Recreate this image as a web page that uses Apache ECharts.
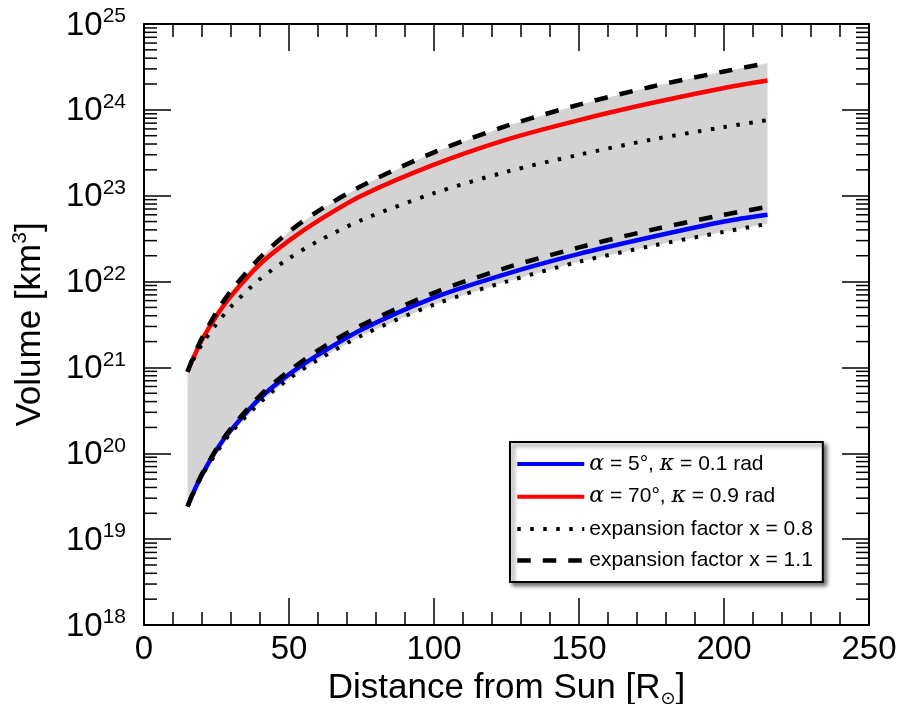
<!DOCTYPE html>
<html><head><meta charset="utf-8">
<script src="https://cdn.jsdelivr.net/npm/echarts@6/dist/echarts.min.js"></script>
<style>html,body{margin:0;padding:0;background:#fff}#c{width:900px;height:704px}</style>
</head><body><div id="c"></div>
<script>
// Distance from Sun [R_sun]
const distances = [15, 17, 20, 25, 30, 40, 50, 60, 75, 100, 125, 150, 175, 200, 215];
// Volume [km^3]
const volAlpha5 = [2.4e19, 3.47e19, 5.6e19, 1.1e20, 1.86e20, 4.4e20, 8.3e20, 1.4e21, 2.75e21, 6.5e21, 1.23e22, 2.1e22, 3.3e22, 5.0e22, 6.0e22];
const volAlpha70 = [8.9e20, 1.29e21, 2.1e21, 4.0e21, 6.8e21, 1.6e22, 3.0e22, 5.1e22, 1.0e23, 2.3e23, 4.5e23, 7.6e23, 1.2e24, 1.8e24, 2.2e24];
const volX08Upper = [8.9e20, 1.23e21, 1.86e21, 3.2e21, 5.1e21, 1.07e22, 1.86e22, 2.95e22, 5.2e22, 1.07e23, 1.9e23, 3.0e23, 4.5e23, 6.3e23, 7.6e23];
const volX08Lower = [2.4e19, 3.4e19, 5.5e19, 1.02e20, 1.74e20, 3.9e20, 7.4e20, 1.23e21, 2.35e21, 5.4e21, 1.0e22, 1.7e22, 2.6e22, 3.8e22, 4.7e22];
const volX11Upper = [8.9e20, 1.32e21, 2.2e21, 4.4e21, 7.8e21, 1.9e22, 3.8e22, 6.6e22, 1.3e23, 3.2e23, 6.5e23, 1.15e24, 1.86e24, 2.8e24, 3.5e24];
const volX11Lower = [2.4e19, 3.5e19, 5.75e19, 1.12e20, 1.95e20, 4.7e20, 9.1e20, 1.58e21, 3.1e21, 7.4e21, 1.45e22, 2.5e22, 4.0e22, 6.0e22, 7.4e22];
const legendNames = ['a5', 'a70', 'x08', 'x11'];
const legendLabels = {
  a5: '{i|α} = 5°, {i|κ} = 0.1 rad',
  a70: '{i|α} = 70°, {i|κ} = 0.9 rad',
  x08: 'expansion factor x = 0.8',
  x11: 'expansion factor x = 1.1'
};
const xMin = 0, xMax = 250, xStep = 50;
const yMin = 1e18, yMax = 1e25;

const FONT = '"Liberation Sans", Arial, Helvetica, sans-serif';
const minorY = [];
for (let n = 18; n < 25; n++) for (let k = 2; k <= 9; k++) minorY.push(k * Math.pow(10, n));
function pairs(ys) { return distances.map((x, i) => [x, ys[i]]); }

const DOT = { color: '#000', width: 4, type: [3.5, 9.5], cap: 'butt' };
const DASH = { color: '#000', width: 4.5, type: [13.5, 12], cap: 'butt' };

const chart = echarts.init(document.getElementById('c'));
const tickLine = { color: '#000', width: 1.5 };
function xAxisCfg(pos, withLabels) {
  return {
    type: 'value', min: xMin, max: xMax, interval: xStep, position: pos,
    axisLine: { show: true, onZero: false, lineStyle: { color: '#000', width: 2 } },
    axisTick: { show: true, inside: true, length: 27, lineStyle: tickLine },
    minorTick: { show: true, splitNumber: 5, length: 13, lineStyle: tickLine },
    splitLine: { show: false }, minorSplitLine: { show: false },
    axisLabel: { show: withLabels, fontSize: 33, color: '#000', fontFamily: FONT, margin: 8 },
    name: withLabels ? 'Distance from Sun [R{sub|⊙}]' : '',
    nameLocation: 'middle', nameGap: 43, nameMoveOverlap: false,
    nameTextStyle: { fontSize: 35, color: '#000', fontFamily: FONT, lineHeight: 40,
      rich: { sub: { fontSize: 18, fontFamily: '"DejaVu Sans", sans-serif', color: '#000', verticalAlign: 'bottom', lineHeight: 18 } } }
  };
}
function yAxisCfg(pos, withLabels) {
  return {
    type: 'log', min: yMin, max: yMax, splitNumber: 7, position: pos,
    axisLine: { show: true, onZero: false, lineStyle: { color: '#000', width: 2 } },
    axisTick: { show: true, inside: true, length: 27, lineStyle: tickLine },
    splitLine: { show: false },
    axisLabel: { show: withLabels, margin: 18, color: '#000',
      formatter: v => '{h|\u200b}{b|10}{s|' + Math.round(Math.log10(v)) + '}',
      rich: {
        h: { fontSize: 33, fontFamily: FONT, lineHeight: 36, verticalAlign: 'middle' },
        b: { fontSize: 33, fontFamily: FONT, color: '#000', lineHeight: 24, verticalAlign: 'bottom' },
        s: { fontSize: 21, fontFamily: FONT, color: '#000', lineHeight: 24, verticalAlign: 'top' }
      } },
    name: withLabels ? 'Volume [km{sup|3}]' : '',
    nameLocation: 'middle', nameGap: 94, nameRotate: 90, nameMoveOverlap: false,
    nameTextStyle: { fontSize: 35, color: '#000', fontFamily: FONT, lineHeight: 40,
      rich: { sup: { fontSize: 21, fontFamily: FONT, color: '#000', verticalAlign: 'top', lineHeight: 22 } } }
  };
}
const noSymbol = { color: 'rgba(0,0,0,0)', borderWidth: 0, opacity: 0 };

const option = {
  animation: false,
  backgroundColor: '#fff',
  grid: { left: 144, right: 31, top: 24, bottom: 79, containLabel: false, outerBoundsMode: 'none' },
  xAxis: [xAxisCfg('bottom', true), xAxisCfg('top', false)],
  yAxis: [yAxisCfg('left', true), yAxisCfg('right', false)],
  legend: {
    orient: 'vertical', left: 510, top: 442, selectedMode: false,
    data: [
      { name: 'a5', itemStyle: noSymbol, lineStyle: { color: '#0000ff', width: 4 } },
      { name: 'a70', itemStyle: noSymbol, lineStyle: { color: '#ff0000', width: 4 } },
      { name: 'x08', itemStyle: noSymbol, lineStyle: DOT },
      { name: 'x11', itemStyle: noSymbol, lineStyle: DASH }
    ],
    itemWidth: 67, itemHeight: 20, itemGap: 10.7,
    padding: [11, 10, 11, 5],
    backgroundColor: '#fff', borderColor: '#000', borderWidth: 2, borderRadius: 0,
    shadowColor: 'rgba(0,0,0,0.55)', shadowBlur: 4, shadowOffsetX: 3, shadowOffsetY: 3,
    formatter: n => legendLabels[n],
    textStyle: { fontSize: 21, color: '#000', fontFamily: FONT,
      rich: { i: { fontSize: 22, fontStyle: 'italic', fontFamily: '"DejaVu Serif", serif', color: '#000' } } }
  },
  series: [
    { type: 'custom', name: 'band', silent: true, z: 1,
      data: [[distances[0], volX11Upper[0]]],
      renderItem: (params, api) => {
        const pts = [];
        for (let i = 0; i < distances.length; i++) pts.push(api.coord([distances[i], volX11Upper[i]]));
        for (let i = distances.length - 1; i >= 0; i--) pts.push(api.coord([distances[i], volX08Lower[i]]));
        return { type: 'polygon', shape: { points: pts }, style: { fill: '#d3d3d3' } };
      } },
    { type: 'line', name: 'a5', data: pairs(volAlpha5), symbol: 'none', smooth: 0.3, z: 2,
      lineStyle: { color: '#0000ff', width: 4.5 }, itemStyle: { color: '#0000ff' } },
    { type: 'line', name: 'a70', data: pairs(volAlpha70), symbol: 'none', smooth: 0.3, z: 2,
      lineStyle: { color: '#ff0000', width: 4.5 }, itemStyle: { color: '#ff0000' } },
    { type: 'line', name: 'x08', data: pairs(volX08Upper), symbol: 'none', smooth: 0.3, z: 3,
      lineStyle: DOT, itemStyle: { color: '#000' } },
    { type: 'line', name: 'x08', data: pairs(volX08Lower), symbol: 'none', smooth: 0.3, z: 3,
      lineStyle: DOT, itemStyle: { color: '#000' } },
    { type: 'line', name: 'x11', data: pairs(volX11Upper), symbol: 'none', smooth: 0.3, z: 4,
      lineStyle: DASH, itemStyle: { color: '#000' } },
    { type: 'line', name: 'x11', data: pairs(volX11Lower), symbol: 'none', smooth: 0.3, z: 4,
      lineStyle: DASH, itemStyle: { color: '#000' } },
    { type: 'custom', name: 'minorTicks', silent: true, z: 5,
      data: minorY.map(v => [xMin, v]),
      renderItem: (params, api) => {
        const v = api.value(1);
        const p0 = api.coord([xMin, v]);
        const p1 = api.coord([xMax, v]);
        return { type: 'group', children: [
          { type: 'line', shape: { x1: p0[0], y1: p0[1], x2: p0[0] + 13, y2: p0[1] }, style: { stroke: '#000', lineWidth: 1.5 } },
          { type: 'line', shape: { x1: p1[0] - 13, y1: p1[1], x2: p1[0], y2: p1[1] }, style: { stroke: '#000', lineWidth: 1.5 } }
        ] };
      } }
  ]
};
chart.setOption(option);
</script></body></html>
